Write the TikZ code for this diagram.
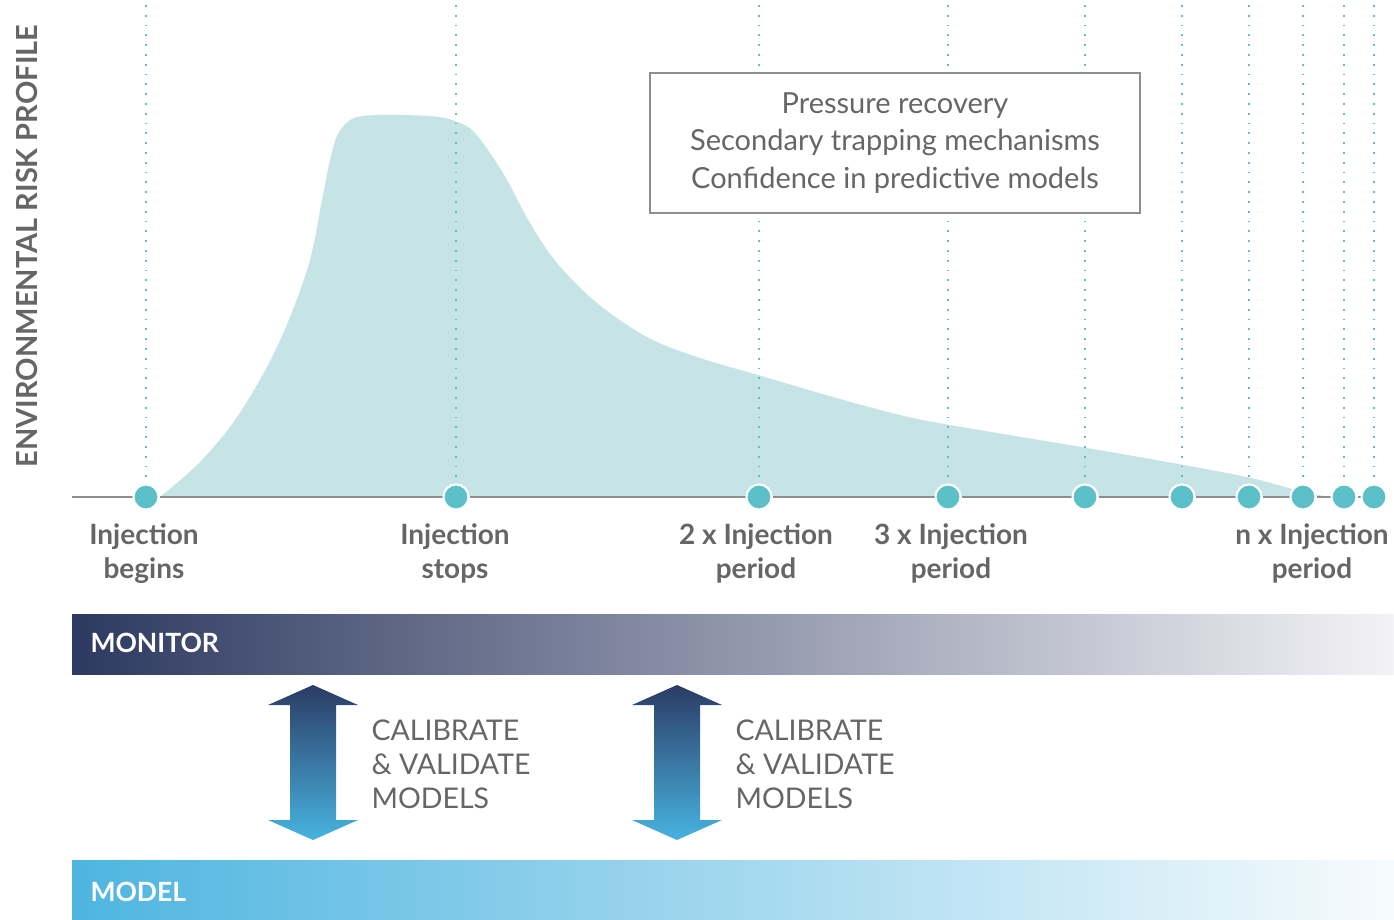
\documentclass[tikz,border=0pt]{standalone}
\usepackage{fontspec}
\setmainfont{Lato}
\usepackage{tikz}
\usetikzlibrary{positioning}
\definecolor{riskfill}{HTML}{C6E4E6}
\definecolor{dotteal}{HTML}{5CC0C9}
\definecolor{txtgray}{HTML}{666666}
\definecolor{axisgray}{HTML}{8E8E8E}
\definecolor{navy}{HTML}{2D3960}
\definecolor{navymid}{HTML}{85879F}
\definecolor{navyend}{HTML}{F3F3F6}
\definecolor{skyblue}{HTML}{4EB5E0}
\definecolor{skymid}{HTML}{A2D5EE}
\definecolor{skyend}{HTML}{F7FBFD}
\definecolor{arrtop}{HTML}{2B3C65}
\definecolor{arrbot}{HTML}{47B3E0}
\tikzset{
    dotnode/.style = {circle, draw=white, line width=2pt, fill=dotteal, minimum size=25pt, inner sep=0pt},
    vline/.style = {dotteal, line width=1.8pt, dash pattern=on 1.8pt off 8pt},
    axisline/.style = {axisgray, line width=2pt},
    labnode/.style = {align=center, text=txtgray, font=\fontsize{28}{34}\selectfont\bfseries, anchor=north},
    boxnode/.style = {rectangle, draw=axisgray, line width=1.5pt, fill=white, align=center, text=txtgray,
                      minimum width=490pt, minimum height=140pt, font=\fontsize{29}{37.5}\selectfont},
    barnode/.style = {rectangle, minimum width=1322pt, minimum height=60pt, inner sep=0pt},
    bartext/.style = {text=white, font=\fontsize{26.5}{30}\selectfont\bfseries, anchor=west},
    caltext/.style = {align=left, text=txtgray, font=\fontsize{28.5}{34}\selectfont, anchor=west},
    dblarrow/.style = {top color=arrtop, bottom color=arrbot, draw=none}
}

\begin{document}
\begin{tikzpicture}[x=1pt,y=-1pt]
\useasboundingbox (0,0) rectangle (1394,920);
% risk profile
\fill[riskfill] plot[smooth, tension=0.55] coordinates {
  (160,497) (200,462) (235,420) (267,367) (290,317) (310,260) (322,200) (330,160)
  (338,134) (352,119) (375,115) (430,116) (455,121) (475,133) (503,173) (530,223)
  (557,263) (597,303) (647,337) (697,357) (758,375) (833,397) (900,415) (950,425)
  (1087,448) (1184,465) (1251,478) (1304,492) (1331,497)} -- cycle;
%
\node[rotate=90, text=txtgray, font=\fontsize{29}{32}\selectfont\bfseries] (ylab) at (27,246) {ENVIRONMENTAL RISK PROFILE};
%
\coordinate (t1) at (146,5);
\coordinate (t2) at (456,5);
\coordinate (t3) at (759,5);
\coordinate (t4) at (948,5);
\coordinate (t5) at (1085,5);
\coordinate (t6) at (1182,5);
\coordinate (t7) at (1249,5);
\coordinate (t8) at (1303,5);
\coordinate (t9) at (1344,5);
\coordinate (t10) at (1374,5);
\coordinate (ax0) at (72,497);
%
\node[dotnode] (d1) at (146,497) {};
\node[dotnode] (d2) at (456,497) {};
\node[dotnode] (d3) at (759,497) {};
\node[dotnode] (d4) at (948,497) {};
\node[dotnode] (d5) at (1085,497) {};
\node[dotnode] (d6) at (1182,497) {};
\node[dotnode] (d7) at (1249,497) {};
\node[dotnode] (d8) at (1303,497) {};
\node[dotnode] (d9) at (1344,497) {};
\node[dotnode] (d10) at (1374,497) {};
%
\draw[vline] (t1) -- (d1);
\draw[vline] (t2) -- (d2);
\draw[vline] (t3) -- (d3);
\draw[vline] (t4) -- (d4);
\draw[vline] (t5) -- (d5);
\draw[vline] (t6) -- (d6);
\draw[vline] (t7) -- (d7);
\draw[vline] (t8) -- (d8);
\draw[vline] (t9) -- (d9);
\draw[vline] (t10) -- (d10);
%
\node[boxnode] (notes) at (895,143) {Pressure recovery\\Secondary trapping mechanisms\\Confidence in predictive models};
%
\draw[axisline] (ax0) -- (d1) -- (d2) -- (d3) -- (d4) -- (d5) -- (d6) -- (d7) -- (d8) -- (d9) -- (d10);
\node[dotnode] at (d1) {};
\node[dotnode] at (d2) {};
\node[dotnode] at (d3) {};
\node[dotnode] at (d4) {};
\node[dotnode] at (d5) {};
\node[dotnode] at (d6) {};
\node[dotnode] at (d7) {};
\node[dotnode] at (d8) {};
\node[dotnode] at (d9) {};
\node[dotnode] at (d10) {};
%
\node[labnode] (l1) at (144,520) {Injection\\begins};
\node[labnode] (l2) at (455,520) {Injection\\stops};
\node[labnode] (l3) at (756,520) {2 x Injection\\period};
\node[labnode] (l4) at (951,520) {3 x Injection\\period};
\node[labnode] (l5) at (1312,520) {n x Injection\\period};
%
\node[barnode, left color=navy, middle color=navymid, right color=navyend] (monitor) at (733,644) {};
\node[bartext] (montxt) at (87,643) {MONITOR};
\node[barnode, left color=skyblue, middle color=skymid, right color=skyend] (model) at (733,890) {};
\node[bartext] (modtxt) at (87,892) {MODEL};
%
\shade[dblarrow] (313,685) -- (358,705) -- (336,705) -- (336,820) -- (358,820) -- (313,840)
  -- (268,820) -- (290,820) -- (290,705) -- (268,705) -- cycle;
\shade[dblarrow] (677,685) -- (722,705) -- (700,705) -- (700,820) -- (722,820) -- (677,840)
  -- (632,820) -- (654,820) -- (654,705) -- (632,705) -- cycle;
\node[caltext] (cal1) at (368,764) {CALIBRATE\\\& VALIDATE\\MODELS};
\node[caltext] (cal2) at (732,764) {CALIBRATE\\\& VALIDATE\\MODELS};
\end{tikzpicture}
\end{document}
